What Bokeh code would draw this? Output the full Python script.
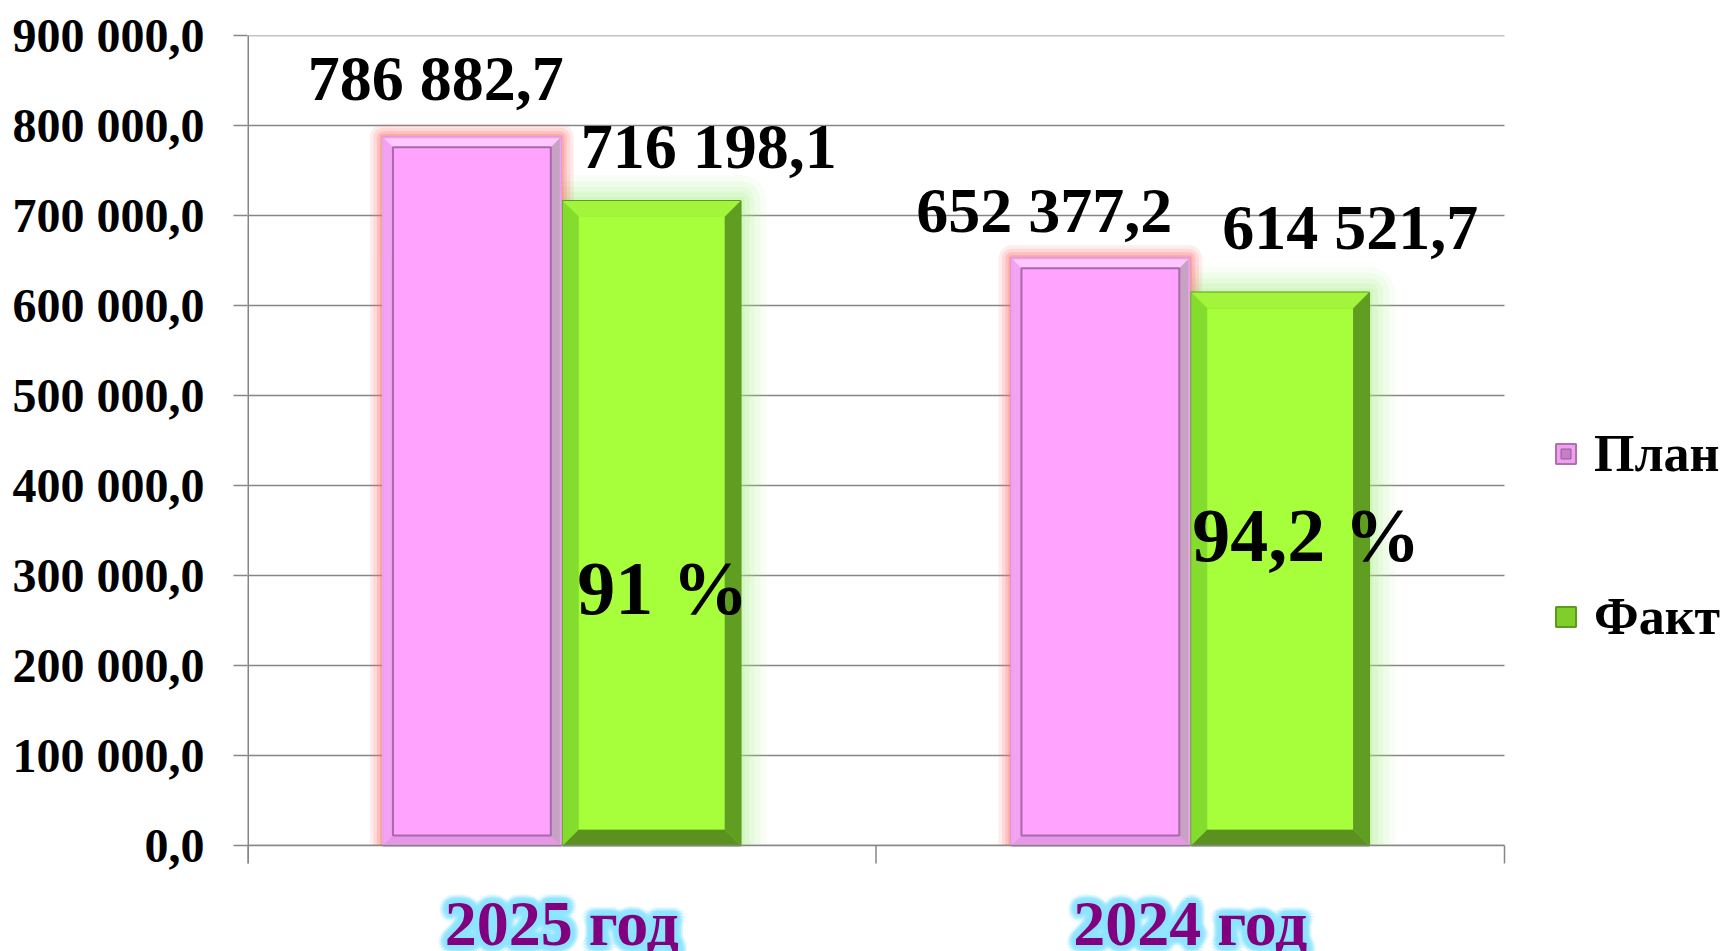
import math
from bokeh.plotting import figure
from bokeh.models import Range1d, FixedTicker, Legend, LegendItem, ColumnDataSource
from bokeh.core.properties import value
from bokeh.embed import file_html
from bokeh.resources import INLINE

# ---------------- data ----------------
categories = ["2025 год", "2024 год"]
series = ["План", "Факт"]
plan = [786882.7, 652377.2]
fact = [716198.1, 614521.7]
plan_labels = ["786 882,7", "652 377,2"]
fact_labels = ["716 198,1", "614 521,7"]
pct_labels = ["91 %", "94,2 %"]
y_ticks = [0, 100000, 200000, 300000, 400000, 500000, 600000, 700000, 800000, 900000]
y_tick_labels = ["0,0", "100 000,0", "200 000,0", "300 000,0", "400 000,0",
                 "500 000,0", "600 000,0", "700 000,0", "800 000,0", "900 000,0"]

# ---------------- style ----------------
FONT = "Liberation Serif"
GRID = "#868686"
W, H = 1730, 951
LEFT, TOP = 247, 35
PLOT_W, PLOT_H = 1257, 810          # pixel size of the value area
NCAT = len(categories)
Y_MAX = y_ticks[-1]
PX = NCAT / PLOT_W                  # data units per pixel (x)
PY = Y_MAX / PLOT_H                 # data units per pixel (y)
BAR_W = 0.283
OFF = 0.143

x_end = (W - LEFT) * PX
y_start = Y_MAX - (H - TOP) * PY

p = figure(width=W, height=H,
           x_range=Range1d(0, x_end), y_range=Range1d(y_start, Y_MAX),
           output_backend="svg", toolbar_location=None, x_axis_type=None,
           min_border_left=LEFT, min_border_right=0,
           min_border_top=TOP, min_border_bottom=0)
p.outline_line_color = None
p.background_fill_color = "white"
p.border_fill_color = "white"
p.xgrid.visible = False
p.ygrid.visible = False

# y axis (labels + ticks only; line drawn below)
p.yaxis.ticker = FixedTicker(ticks=y_ticks)
p.yaxis.major_label_overrides = dict(zip(y_ticks, y_tick_labels))
p.yaxis.major_label_text_font = FONT
p.yaxis.major_label_text_font_size = "48px"
p.yaxis.major_label_text_font_style = "bold"
p.yaxis.major_label_text_color = "black"
p.yaxis.major_label_standoff = 29
p.yaxis.major_tick_out = 14
p.yaxis.major_tick_in = 0
p.yaxis.minor_tick_out = 0
p.yaxis.minor_tick_in = 0
p.yaxis.axis_line_color = None
p.yaxis.major_tick_line_color = GRID
p.yaxis.major_tick_line_width = 1.5

# horizontal grid lines limited to the category area
p.segment(x0=[0] * len(y_ticks), x1=[NCAT] * len(y_ticks), y0=y_ticks, y1=y_ticks,
          line_color=GRID, line_width=1.5)

centers = [i + 0.5 for i in range(NCAT)]
plan_x = [c - OFF for c in centers]
fact_x = [c + OFF for c in centers]

# ---------------- glows ----------------
for lw, a in [(52, 0.08), (40, 0.10), (28, 0.12), (18, 0.15), (8, 0.2)]:
    p.vbar(x=fact_x, top=fact, width=BAR_W, bottom=0, fill_color=None,
           line_color="#a6f084", line_width=lw, line_alpha=a, line_join="round")
for lw, a in [(26, 0.12), (19, 0.16), (12, 0.22), (6, 0.3)]:
    p.vbar(x=plan_x, top=plan, width=BAR_W, bottom=0, fill_color=None,
           line_color="#ff6a6a", line_width=lw, line_alpha=a, line_join="round")

# mask glow below the baseline
p.quad(left=[0], right=[x_end], bottom=[y_start], top=[0], fill_color="white", line_color=None)

# base layers of the bars (also used as legend glyphs)
plan_base = p.quad(left=[x - BAR_W / 2 for x in plan_x], right=[x + BAR_W / 2 for x in plan_x],
                   bottom=[0] * NCAT, top=plan, fill_color="#f0a0f0",
                   line_color="#b070b0", line_width=2)
fact_base = p.quad(left=[x - BAR_W / 2 for x in fact_x], right=[x + BAR_W / 2 for x in fact_x],
                   bottom=[0] * NCAT, top=fact, fill_color="#7fcf2a",
                   line_color="#5e9a20", line_width=2)


# ---------------- bevelled bars ----------------
def bevel(xc, top, bev_px, cols):
    x0, x1 = xc - BAR_W / 2, xc + BAR_W / 2
    dx, dy = bev_px * PX, bev_px * PY
    xs, ys, cs = [], [], []
    xs.append([x0, x1, x1 - dx, x0 + dx]); ys.append([top, top, top - dy, top - dy]); cs.append(cols[0])
    xs.append([x0, x1, x1 - dx, x0 + dx]); ys.append([0, 0, dy, dy]); cs.append(cols[1])
    xs.append([x0, x0, x0 + dx, x0 + dx]); ys.append([0, top, top - dy, dy]); cs.append(cols[2])
    xs.append([x1, x1, x1 - dx, x1 - dx]); ys.append([0, top, top - dy, dy]); cs.append(cols[3])
    return xs, ys, cs


PLAN_COLS = ["#ffc6ff", "#e697e6", "#f4a2f4", "#c7a2c4"]
FACT_COLS = ["#a2f53a", "#5b921f", "#84dc2e", "#609e21"]

for vals, xpos, cols, fillc, bev, inner_line, outer_line in [
        (plan, plan_x, PLAN_COLS, "#ffa3ff", 10, "#a86aa8", "#e8a6e8"),
        (fact, fact_x, FACT_COLS, "#a6ff3a", 16, None, None)]:
    XS, YS, CS = [], [], []
    for xc, v in zip(xpos, vals):
        xs, ys, cs = bevel(xc, v, bev, cols)
        XS += xs; YS += ys; CS += cs
    p.patches(xs="xs", ys="ys", fill_color="c", line_color=None,
              source=ColumnDataSource(dict(xs=XS, ys=YS, c=CS)))
    dx, dy = bev * PX, bev * PY
    p.quad(left=[x - BAR_W / 2 + dx for x in xpos], right=[x + BAR_W / 2 - dx for x in xpos],
           bottom=[dy] * len(vals), top=[v - dy for v in vals],
           fill_color=fillc, line_color=inner_line, line_width=2)
    if outer_line:
        p.quad(left=[x - BAR_W / 2 for x in xpos], right=[x + BAR_W / 2 for x in xpos],
               bottom=[0] * len(vals), top=vals,
               fill_color=None, line_color=outer_line, line_width=2)

# zero-size marker: only visible as the inner square of the legend glyph
plan_mark = p.scatter(x=plan_x, y=plan, size=0, marker="square",
                      fill_color="#c27fc2", line_color="#9a5a9a")

# axis lines and boundary ticks
TICK = 18 * PY
p.segment(x0=[0], x1=[0], y0=[-TICK], y1=[Y_MAX], line_color=GRID, line_width=3)
p.segment(x0=[0], x1=[NCAT], y0=[0], y1=[0], line_color=GRID, line_width=1.5)
bounds = list(range(NCAT + 1))
p.segment(x0=bounds, x1=bounds, y0=[0] * len(bounds), y1=[-TICK] * len(bounds),
          line_color=GRID, line_width=1.5)

# ---------------- value labels ----------------
lab_src = ColumnDataSource(dict(
    x=plan_x + fact_x,
    y=plan + fact,
    t=plan_labels + fact_labels,
    xo=[-36, -56, 57, 70],
    yo=[-59, -48, -54, -65],
))
p.text(x="x", y="y", text="t", x_offset="xo", y_offset="yo", source=lab_src,
       text_font=value(FONT), text_font_style="bold", text_font_size="64px",
       text_color="black", text_align="center", text_baseline="middle")

pct_src = ColumnDataSource(dict(
    x=fact_x, y=[v / 2 for v in fact], t=pct_labels,
    xo=[11, 26], yo=[65, -34],
))
p.text(x="x", y="y", text="t", x_offset="xo", y_offset="yo", source=pct_src,
       text_font=value(FONT), text_font_style="bold", text_font_size="76px",
       text_color="black", text_align="center", text_baseline="middle")

# ---------------- category labels (with glow) ----------------
CAT_DY = 78
CAT_SIZE = "64px"
gx, gy, gt, gxo, gyo, ga = [], [], [], [], [], []
for c, cat in zip(centers, categories):
    for r, a in [(9, 0.16), (7, 0.24), (5, 0.34), (3, 0.45)]:
        for k in range(16):
            ang = 2 * math.pi * k / 16
            gx.append(c); gy.append(0); gt.append(cat)
            gxo.append(r * math.cos(ang)); gyo.append(CAT_DY + r * math.sin(ang)); ga.append(a)
p.text(x="x", y="y", text="t", x_offset="xo", y_offset="yo", text_alpha="a",
       source=ColumnDataSource(dict(x=gx, y=gy, t=gt, xo=gxo, yo=gyo, a=ga)),
       text_font=value(FONT), text_font_style="bold", text_font_size=CAT_SIZE,
       text_color="#8fe4ff", text_align="center", text_baseline="middle")
p.text(x=centers, y=[0] * NCAT, text=categories, y_offset=CAT_DY,
       text_font=value(FONT), text_font_style="bold", text_font_size=CAT_SIZE,
       text_color="#800080", text_align="center", text_baseline="middle")

# ---------------- legend ----------------
legend = Legend(items=[LegendItem(label=value(series[0]), renderers=[plan_base, plan_mark]),
                       LegendItem(label=value(series[1]), renderers=[fact_base])],
                location=(1306, 305), orientation="vertical", spacing=104,
                glyph_width=25, glyph_height=25, label_standoff=16,
                padding=0, margin=0, border_line_color=None, background_fill_alpha=0,
                label_text_font=FONT, label_text_font_style="bold",
                label_text_font_size="52px", label_text_color="black")
p.add_layout(legend)

open("out.html", "w").write(file_html(p, INLINE))
